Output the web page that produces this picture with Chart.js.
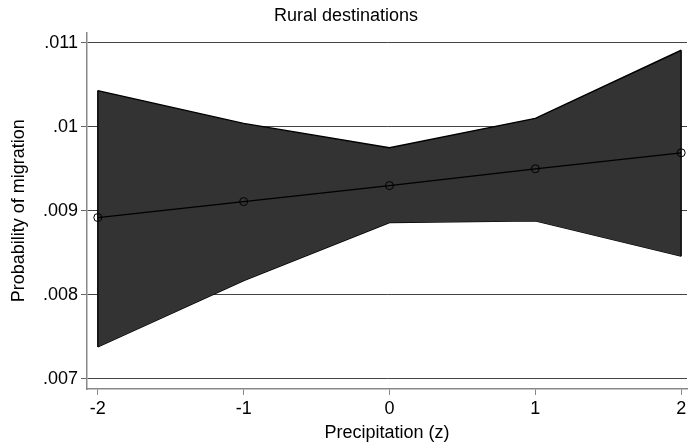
<!DOCTYPE html>
<html>
<head>
<meta charset="utf-8">
<script src="https://cdn.jsdelivr.net/npm/chart.js@4/dist/chart.umd.min.js"></script>
<style>
  html, body { margin: 0; padding: 0; background: #fff; }
  #wrap { width: 692px; height: 448px; }
</style>
</head>
<body>
<div id="wrap"><canvas id="c" width="692" height="448"></canvas></div>
<script>
// data
const xValues = [-2, -1, 0, 1, 2];
const margin = [0.00892, 0.00911, 0.00930, 0.00950, 0.00969];
const upper  = [0.01043, 0.01004, 0.00975, 0.01010, 0.01091];
const lower  = [0.00738, 0.00817, 0.00886, 0.00888, 0.00846];
const yTicks = [0.007, 0.008, 0.009, 0.010, 0.011];
const yTickLabels = ['.007', '.008', '.009', '.01', '.011'];
const xTicks = [-2, -1, 0, 1, 2];

const font = 'Liberation Sans, Arial, sans-serif';
const fs = 18;
const pts = (ys) => xValues.map((x, i) => ({ x: x, y: ys[i] }));
const last = xValues.length - 1;

const ctx = document.getElementById('c').getContext('2d');
new Chart(ctx, {
  type: 'line',
  data: {
    datasets: [
      {
        // fitted line, drawn on top
        data: pts(margin),
        order: 0,
        borderColor: '#000',
        borderWidth: 1.3,
        fill: false,
        pointRadius: 4,
        pointBorderWidth: 1,
        pointBorderColor: '#000',
        pointBackgroundColor: 'rgba(0,0,0,0)',
        tension: 0
      },
      {
        // upper CI edge, filled down to lower edge
        data: pts(upper),
        order: 2,
        borderColor: '#000',
        borderWidth: 1.4,
        backgroundColor: '#333333',
        fill: '+1',
        pointRadius: 0,
        tension: 0
      },
      {
        data: pts(lower),
        order: 2,
        borderColor: '#000',
        borderWidth: 1.4,
        fill: false,
        pointRadius: 0,
        tension: 0
      },
      {
        // closing edges of the band
        data: [{ x: xValues[0], y: lower[0] }, { x: xValues[0], y: upper[0] }],
        order: 1,
        borderColor: '#000',
        borderWidth: 1.4,
        fill: false,
        pointRadius: 0
      },
      {
        data: [{ x: xValues[last], y: lower[last] }, { x: xValues[last], y: upper[last] }],
        order: 1,
        borderColor: '#000',
        borderWidth: 1.4,
        fill: false,
        pointRadius: 0
      }
    ]
  },
  options: {
    responsive: false,
    animation: false,
    layout: { padding: 0 },
    plugins: {
      legend: { display: false },
      tooltip: { enabled: false },
      title: {
        display: true,
        text: 'Rural destinations',
        color: '#000',
        font: { family: font, size: fs, weight: 'normal' },
        padding: { top: 5, bottom: 6 }
      }
    },
    scales: {
      x: {
        type: 'linear',
        min: -2.074,
        max: 2.040,
        afterBuildTicks: (s) => { s.ticks = xTicks.map(v => ({ value: v })); },
        afterFit: (s) => { s.height = 59; s.paddingLeft = 0; s.paddingRight = 0; },
        ticks: {
          color: '#000',
          font: { family: font, size: fs },
          padding: 3,
          maxRotation: 0,
          callback: (v) => String(v)
        },
        grid: {
          drawOnChartArea: false,
          drawTicks: true,
          tickLength: 6,
          tickColor: '#888',
          tickWidth: 1
        },
        border: { color: '#888', width: 1.5 },
        title: {
          display: true,
          text: 'Precipitation (z)',
          color: '#000',
          font: { family: font, size: fs },
          padding: { top: 0, bottom: 4 }
        }
      },
      y: {
        min: 0.00688,
        max: 0.01112,
        afterBuildTicks: (s) => { s.ticks = yTicks.map(v => ({ value: v })); },
        afterFit: (s) => { s.width = 87; s.paddingTop = 0; s.paddingBottom = 0; },
        ticks: {
          color: '#000',
          font: { family: font, size: fs },
          padding: 3,
          callback: (v) => {
            const i = yTicks.findIndex(t => Math.abs(t - v) < 1e-9);
            return i >= 0 ? yTickLabels[i] : '';
          }
        },
        grid: {
          color: '#444',
          lineWidth: 1,
          drawTicks: true,
          tickLength: 6,
          tickColor: '#666',
          tickWidth: 1
        },
        border: { color: '#888', width: 1.5 },
        title: {
          display: true,
          text: 'Probability of migration',
          color: '#000',
          font: { family: font, size: fs },
          padding: { top: 8, bottom: 0 }
        }
      }
    }
  }
});
</script>
</body>
</html>
